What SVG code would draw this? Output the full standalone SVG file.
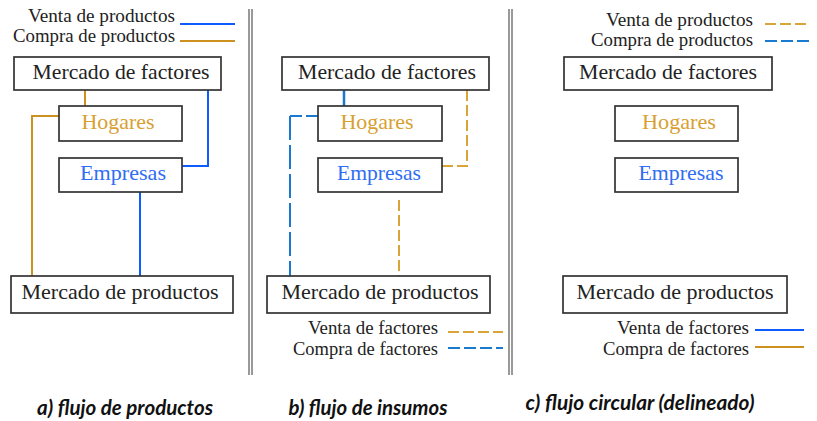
<svg xmlns="http://www.w3.org/2000/svg" width="817" height="421" viewBox="0 0 817 421">
<style>
.box{fill:#fff;stroke:#333;stroke-width:1.7}
.t{font-family:"Liberation Serif","Times New Roman",serif;font-size:21.5px;fill:#222;text-anchor:middle}
.lg{font-family:"Liberation Serif","Times New Roman",serif;font-size:19px;fill:#222;text-anchor:end}
.gold{fill:#d8a032}
.blue{fill:#2f6df2}
.title{font-family:Lato,"Open Sans",sans-serif;font-style:italic;font-weight:bold;font-size:20px;fill:#111;text-anchor:middle}
.div{stroke:#999;stroke-width:2}
.cg{fill:none;stroke:#cc911f;stroke-width:2}
.cb{fill:none;stroke:#0d5cff;stroke-width:2}
.dg{fill:none;stroke:#d9a53a;stroke-width:2;stroke-dasharray:11 4}
.db{fill:none;stroke:#1a7ad0;stroke-width:2;stroke-dasharray:12 4}
.dbl{fill:none;stroke:#1a7ad0;stroke-width:2;stroke-dasharray:24 5}
.sb{fill:none;stroke:#1a75cc;stroke-width:2.5}
</style>
<g id="dividers">
<line class="div" x1="249" y1="9" x2="249" y2="375"/>
<line class="div" x1="252" y1="9" x2="252" y2="375"/>
<line class="div" x1="509" y1="9" x2="509" y2="375"/>
<line class="div" x1="512" y1="9" x2="512" y2="375"/>
</g>
<g id="connectors">
<path class="cg" d="M85,90 V106"/>
<path class="cg" d="M59,116 H32 V276"/>
<path class="cb" d="M208,90 V166 H182"/>
<path class="cb" d="M140,192 V276"/>
<path class="sb" d="M344,90 V106"/>
<path class="db" d="M318,116 H290"/>
<path class="dbl" d="M290,116 V276"/>
<path class="dg" d="M467,90 V166 H442"/>
<path class="dg" d="M399,200 V276"/>
</g>
<g id="legend-a">
<text class="lg" x="175" y="22" textLength="147" lengthAdjust="spacingAndGlyphs">Venta de productos</text>
<text class="lg" x="175" y="42" textLength="162" lengthAdjust="spacingAndGlyphs">Compra de productos</text>
<line class="cb" x1="180" y1="24" x2="235" y2="24"/>
<line class="cg" x1="180" y1="41" x2="235" y2="41"/>
</g>
<g id="a-mercado-factores"><rect class="box" x="14" y="57" width="207" height="33"/><text class="t" x="121" y="79" textLength="177" lengthAdjust="spacingAndGlyphs">Mercado de factores</text></g>
<g id="a-hogares"><rect class="box" x="59" y="106" width="123" height="35"/><text class="t gold" x="118" y="129" textLength="73" lengthAdjust="spacingAndGlyphs">Hogares</text></g>
<g id="a-empresas"><rect class="box" x="59" y="158" width="123" height="34"/><text class="t blue" x="123" y="180" textLength="86" lengthAdjust="spacingAndGlyphs">Empresas</text></g>
<g id="a-mercado-productos"><rect class="box" x="11" y="276" width="222" height="37"/><text class="t" x="120" y="299" textLength="197" lengthAdjust="spacingAndGlyphs">Mercado de productos</text></g>
<g id="b-mercado-factores"><rect class="box" x="282" y="57" width="207" height="33"/><text class="t" x="387" y="79" textLength="178" lengthAdjust="spacingAndGlyphs">Mercado de factores</text></g>
<g id="b-hogares"><rect class="box" x="318" y="106" width="124" height="35"/><text class="t gold" x="377" y="129" textLength="73" lengthAdjust="spacingAndGlyphs">Hogares</text></g>
<g id="b-empresas"><rect class="box" x="318" y="158" width="124" height="34"/><text class="t blue" x="379" y="180" textLength="84" lengthAdjust="spacingAndGlyphs">Empresas</text></g>
<g id="b-mercado-productos"><rect class="box" x="267" y="276" width="223" height="37"/><text class="t" x="380" y="299" textLength="197" lengthAdjust="spacingAndGlyphs">Mercado de productos</text></g>
<g id="legend-b">
<text class="lg" x="438" y="334" textLength="130" lengthAdjust="spacingAndGlyphs">Venta de factores</text>
<text class="lg" x="438" y="355" textLength="145" lengthAdjust="spacingAndGlyphs">Compra de factores</text>
<line class="dg" x1="448" y1="332" x2="503" y2="332"/>
<line class="db" x1="448" y1="348" x2="503" y2="348"/>
</g>
<g id="legend-c-top">
<text class="lg" x="753" y="26" textLength="147" lengthAdjust="spacingAndGlyphs">Venta de productos</text>
<text class="lg" x="753" y="46" textLength="162" lengthAdjust="spacingAndGlyphs">Compra de productos</text>
<line class="dg" x1="765" y1="24" x2="810" y2="24"/>
<line class="db" x1="765" y1="41" x2="810" y2="41"/>
</g>
<g id="c-mercado-factores"><rect class="box" x="564" y="57" width="208" height="33"/><text class="t" x="668" y="79" textLength="178" lengthAdjust="spacingAndGlyphs">Mercado de factores</text></g>
<g id="c-hogares"><rect class="box" x="615" y="106" width="123" height="35"/><text class="t gold" x="679" y="129" textLength="74" lengthAdjust="spacingAndGlyphs">Hogares</text></g>
<g id="c-empresas"><rect class="box" x="615" y="158" width="123" height="34"/><text class="t blue" x="681" y="180" textLength="85" lengthAdjust="spacingAndGlyphs">Empresas</text></g>
<g id="c-mercado-productos"><rect class="box" x="563" y="276" width="224" height="37"/><text class="t" x="675" y="299" textLength="197" lengthAdjust="spacingAndGlyphs">Mercado de productos</text></g>
<g id="legend-c-bottom">
<text class="lg" x="749" y="334" textLength="132" lengthAdjust="spacingAndGlyphs">Venta de factores</text>
<text class="lg" x="749" y="355" textLength="146" lengthAdjust="spacingAndGlyphs">Compra de factores</text>
<line class="cb" x1="755" y1="330" x2="804" y2="330"/>
<line class="cg" x1="755" y1="347" x2="804" y2="347"/>
</g>
<g id="titles">
<text class="title" x="125" y="415" textLength="176" lengthAdjust="spacingAndGlyphs">a) flujo de productos</text>
<text class="title" x="368" y="415" textLength="159" lengthAdjust="spacingAndGlyphs">b) flujo de insumos</text>
<text class="title" x="640" y="410" textLength="229" lengthAdjust="spacingAndGlyphs">c) flujo circular (delineado)</text>
</g>
</svg>
